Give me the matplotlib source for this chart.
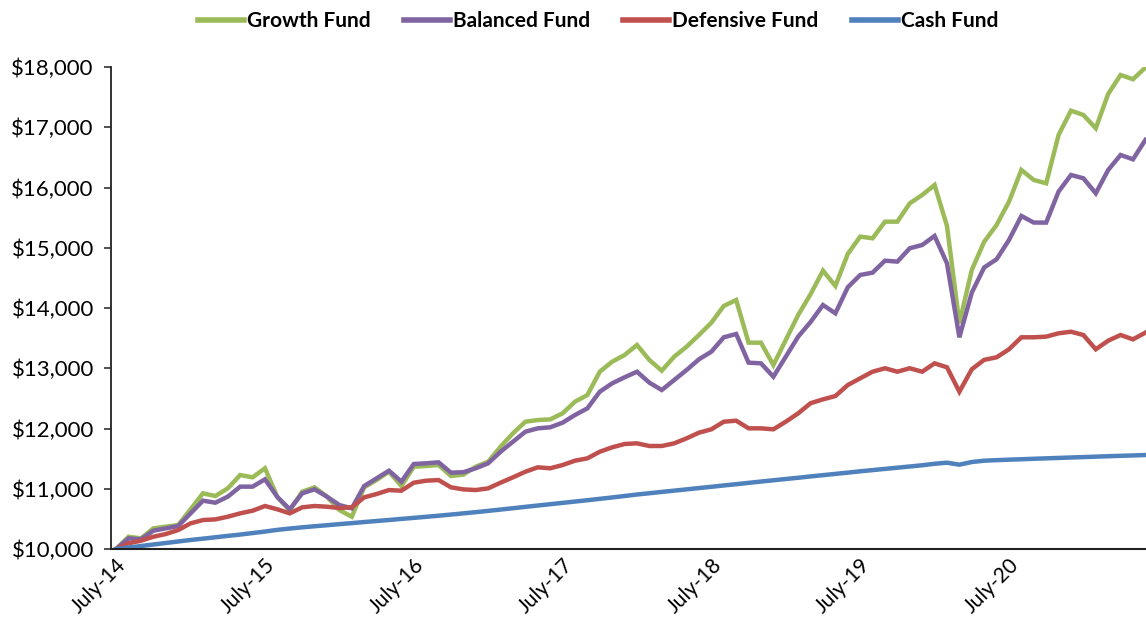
import matplotlib
matplotlib.use('Agg')
import matplotlib.pyplot as plt
import matplotlib.transforms as mtransforms
import numpy as np

# monthly values, July 2014 .. June 2021
growth = [10000, 10204, 10177, 10343, 10371, 10398, 10659, 10924, 10880, 11007,
          11228, 11190, 11340, 10863, 10640, 10951, 11024, 10869, 10647, 10536,
          11024, 11145, 11283, 11046, 11366, 11378, 11394, 11212, 11235, 11366,
          11449, 11698, 11920, 12113, 12141, 12152, 12252, 12445, 12556, 12943,
          13109, 13220, 13386, 13137, 12960, 13192, 13358, 13552, 13757, 14034,
          14133, 13425, 13425, 13054, 13469, 13884, 14230, 14620, 14366, 14897,
          15185, 15157, 15433, 15433, 15738, 15876, 16042, 15362, 13747, 14631,
          15100, 15378, 15765, 16291, 16125, 16070, 16872, 17275, 17204, 16983,
          17553, 17868, 17797, 17990]
balanced = [10000, 10177, 10161, 10304, 10343, 10382, 10592, 10802, 10769, 10869,
            11035, 11035, 11157, 10863, 10660, 10924, 10991, 10869, 10730, 10675,
            11046, 11173, 11300, 11118, 11411, 11423, 11439, 11267, 11275, 11340,
            11423, 11615, 11781, 11947, 12003, 12020, 12097, 12224, 12335, 12611,
            12750, 12850, 12943, 12761, 12639, 12805, 12971, 13149, 13275, 13514,
            13569, 13093, 13082, 12860, 13192, 13525, 13768, 14050, 13912, 14344,
            14548, 14587, 14786, 14770, 14992, 15046, 15196, 14742, 13514, 14255,
            14673, 14809, 15129, 15528, 15418, 15418, 15932, 16208, 16153, 15904,
            16291, 16540, 16468, 16789]
defensive = [10000, 10095, 10138, 10204, 10249, 10315, 10426, 10481, 10492, 10536,
             10592, 10636, 10714, 10659, 10592, 10692, 10714, 10702, 10680, 10692,
             10858, 10913, 10979, 10968, 11101, 11134, 11145, 11024, 10990, 10979,
             11007, 11101, 11190, 11283, 11356, 11340, 11394, 11466, 11505, 11615,
             11688, 11743, 11754, 11710, 11710, 11754, 11837, 11931, 11987, 12113,
             12130, 12003, 12003, 11987, 12113, 12252, 12420, 12484, 12539, 12722,
             12833, 12943, 13000, 12943, 13000, 12943, 13082, 13016, 12611, 12983,
             13140, 13182, 13315, 13514, 13514, 13525, 13580, 13607, 13552, 13315,
             13458, 13552, 13480, 13591]
cash = [10000, 10025, 10050, 10075, 10100, 10125, 10150, 10172, 10195, 10218,
        10240, 10265, 10290, 10318, 10340, 10360, 10378, 10395, 10413, 10430,
        10448, 10465, 10482, 10500, 10517, 10535, 10553, 10572, 10592, 10612,
        10633, 10655, 10677, 10700, 10722, 10744, 10766, 10788, 10810, 10833,
        10856, 10880, 10905, 10926, 10948, 10969, 10990, 11012, 11033, 11055,
        11076, 11098, 11120, 11141, 11162, 11183, 11205, 11226, 11247, 11268,
        11290, 11310, 11330, 11350, 11370, 11390, 11415, 11433, 11400, 11444,
        11466, 11475, 11483, 11490, 11498, 11505, 11512, 11519, 11526, 11533,
        11540, 11547, 11553, 11560]

series_names = ['Growth Fund', 'Balanced Fund', 'Defensive Fund', 'Cash Fund']
tick_labels = ['July-14', 'July-15', 'July-16', 'July-17', 'July-18', 'July-19', 'July-20']
colors = ['#9BBB59', '#8064A2', '#C0504D', '#4F81BD']

plt.rcParams['font.family'] = ['Lato', 'DejaVu Sans']

fig = plt.figure(figsize=(11.46, 6.21), dpi=100)
ax = fig.add_axes([0.0965, 0.1159, 0.9035, 0.7762])

months = np.arange(len(growth))
for vals, name, c in zip([growth, balanced, defensive, cash], series_names, colors):
    ax.plot(months, vals, color=c, lw=3.2, label=name, solid_joinstyle='miter')

ax.set_xlim(-0.45, 83.05)
ax.set_ylim(10000, 18000)
ax.set_yticks(np.arange(10000, 18001, 1000))
ax.set_yticklabels(['${:,}'.format(v) for v in range(10000, 18001, 1000)], fontsize=16)

ax.set_xticks(np.arange(0, 73, 12))
ax.set_xticklabels(tick_labels, fontsize=15, rotation=45, ha='right', rotation_mode='anchor')
offset = mtransforms.ScaledTranslation(41/100, 0, fig.dpi_scale_trans)
for lab in ax.get_xticklabels():
    lab.set_transform(lab.get_transform() + offset)

ax.tick_params(axis='x', length=0, pad=4)
ax.tick_params(axis='y', length=5, width=1.2, color='#333333', pad=7)
for s in ['top', 'right']:
    ax.spines[s].set_visible(False)
ax.spines['left'].set_color('#222222')
ax.spines['bottom'].set_color('#222222')
ax.spines['left'].set_linewidth(1.3)
ax.spines['bottom'].set_linewidth(1.5)

leg = fig.legend(loc='upper center', bbox_to_anchor=(0.522, 1.012), ncol=4, frameon=False,
                 prop={'weight': 'bold', 'size': 15}, handlelength=2.2, columnspacing=1.6,
                 handletextpad=0.15)
for line in leg.get_lines():
    line.set_linewidth(4)

fig.savefig('out.png', dpi=100, facecolor='white')
